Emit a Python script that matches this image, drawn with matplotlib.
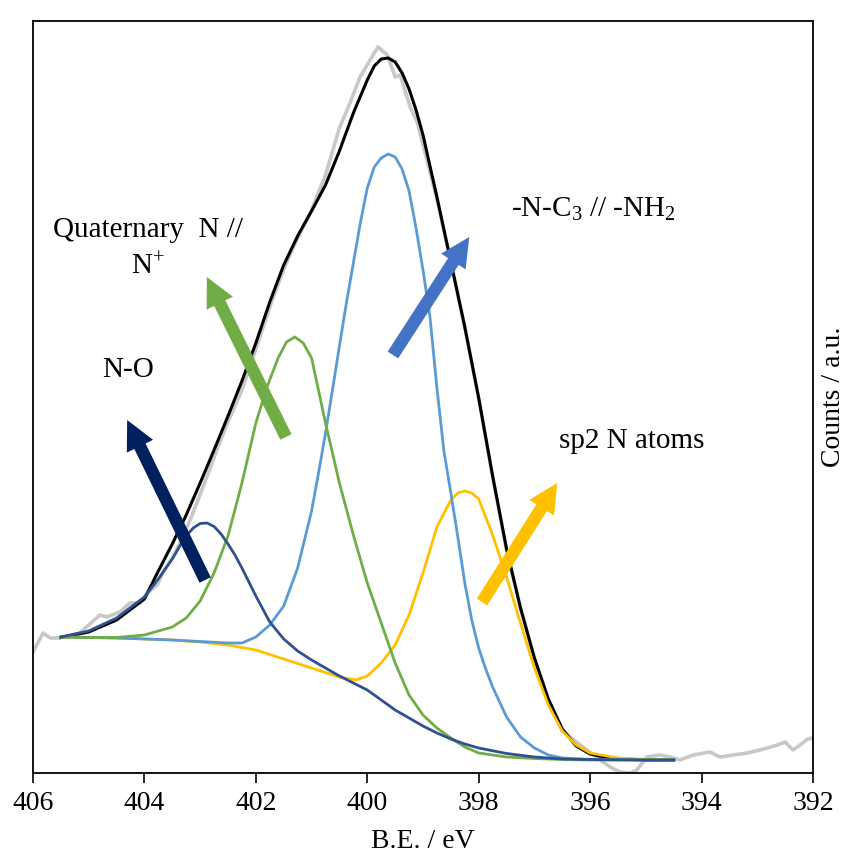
import numpy as np
import matplotlib
matplotlib.use("Agg")
import matplotlib.pyplot as plt

plt.rcParams['font.family'] = ['Liberation Serif', 'DejaVu Serif']
plt.rcParams['mathtext.fontset'] = 'custom'
plt.rcParams['mathtext.rm'] = 'Liberation Serif'
plt.rcParams['mathtext.it'] = 'Liberation Serif:italic'

# binding energy (eV) / counts (a.u.)
raw_be = [406.0, 405.82, 405.69, 405.52, 405.16, 404.80, 404.67, 404.44, 404.26, 404.08,
          403.95, 403.77, 403.67, 403.49, 403.31, 403.18, 403.06, 402.88, 402.70, 402.5,
          402.25, 402.0, 401.75, 401.5, 401.25, 401.0, 400.75, 400.5, 400.31, 400.13,
          399.95, 399.81, 399.64, 399.5, 399.41, 399.23, 399.1, 398.99, 398.75, 398.5,
          398.25, 398.0, 397.75, 397.5, 397.25, 397.0, 396.75, 396.5, 396.13, 395.82,
          395.64, 395.46, 395.28, 395.16, 394.98, 394.75, 394.57, 394.39, 394.15, 393.85,
          393.67, 393.43, 393.18, 392.95, 392.82, 392.64, 392.5, 392.36, 392.23, 392.1, 392.0]
raw_counts = [121, 140, 135, 135, 140, 158, 156, 161, 170, 170,
              180, 188, 201, 216, 236, 253, 270, 296, 323, 351,
              383, 424, 466, 504, 535, 563, 598, 645, 670, 696,
              713, 726, 718, 696, 698, 666, 650, 626, 574, 511,
              446, 374, 296, 223, 165, 114, 72, 42, 26, 13,
              6, 1, 0, 3, 16, 18, 16, 13, 18, 21,
              16, 18, 20, 23, 25, 28, 31, 23, 28, 34, 35]

env_be = [405.5, 405.0, 404.5, 404.0, 403.75, 403.5, 403.25, 403.0, 402.75, 402.5,
          402.25, 402.0, 401.75, 401.5, 401.25, 401.0, 400.75, 400.5, 400.25, 400.0,
          399.875, 399.75, 399.625, 399.5, 399.375, 399.25, 399.125, 399.0, 398.75, 398.5,
          398.25, 398.0, 397.75, 397.5, 397.25, 397.0, 396.75, 396.5, 396.25, 396.0,
          395.75, 395.5, 395.0, 394.5]
env_counts = [135.5, 141, 153, 174, 202, 229, 258, 290, 323, 357,
              392, 430, 471, 508, 537, 562, 588, 622, 660, 693,
              707, 714, 715, 711, 700, 684, 663, 638, 576, 511,
              446, 375, 297, 224, 165, 115, 74, 44, 27, 19,
              16, 14.5, 13, 13]

no_be = [405.5, 405.0, 404.5, 404.0, 403.75, 403.5, 403.375, 403.25, 403.125, 403.0,
         402.875, 402.75, 402.625, 402.5, 402.375, 402.25, 402.0, 401.75, 401.5, 401.25,
         401.0, 400.75, 400.5, 400.25, 400.0, 399.75, 399.5, 399.25, 399.0, 398.75,
         398.5, 398.25, 398.0, 397.5, 397.0, 396.5, 396.0, 395.0, 394.5]
no_counts = [136, 142, 155, 176, 194, 214, 226, 237, 245, 249.5,
             250, 246.5, 239, 229, 218, 205, 177, 151, 134, 122,
             113, 105, 97, 90, 83, 73, 63, 55, 47, 40,
             34, 29, 25, 19.5, 16, 14, 13.5, 13, 13]

quat_be = [405.5, 405.0, 404.5, 404.0, 403.5, 403.25, 403.0, 402.75, 402.5, 402.25,
           402.0, 401.8, 401.6, 401.45, 401.3, 401.15, 401.0, 400.75, 400.5, 400.25,
           400.0, 399.75, 399.5, 399.25, 399.0, 398.75, 398.5, 398.25, 398.0, 397.5,
           397.0, 396.5, 396.0, 395.0, 394.5]
quat_counts = [136, 135.5, 135.5, 138, 146, 155, 172, 200, 237, 290,
               350, 386, 415, 431, 436, 430, 415, 350, 290, 238,
               190, 150, 110, 78, 58, 45, 35, 26, 20, 16,
               14.5, 13.5, 13, 13, 13]

nc3_be = [405.5, 405.0, 404.5, 404.0, 403.5, 403.0, 402.5, 402.25, 402.0, 401.75,
          401.5, 401.25, 401.0, 400.875, 400.75, 400.625, 400.5, 400.375, 400.25, 400.125,
          400.0, 399.875, 399.75, 399.625, 399.5, 399.375, 399.25, 399.125, 399.0, 398.875,
          398.75, 398.625, 398.5, 398.375, 398.25, 398.125, 398.0, 397.875, 397.75, 397.5,
          397.25, 397.0, 396.75, 396.5, 396.0, 395.0, 394.5]
nc3_counts = [136, 135.5, 135, 134, 133, 131.5, 130, 130, 136, 148,
              167, 205, 262, 300, 340, 383, 427, 470, 510, 550,
              585, 606, 615, 619, 616, 604, 582, 545, 503, 456,
              385, 322, 280, 236, 190, 153, 125, 104, 86, 56,
              36, 25, 18, 15, 13.5, 13, 13]

sp2_be = [405.5, 405.0, 404.5, 404.0, 403.5, 403.0, 402.5, 402.0, 401.5, 401.0,
          400.5, 400.2, 400.0, 399.75, 399.5, 399.25, 399.0, 398.75, 398.5, 398.375,
          398.25, 398.125, 398.0, 397.75, 397.5, 397.25, 397.0, 396.75, 396.5, 396.25,
          396.0, 395.5, 395.0, 394.5]
sp2_counts = [136, 135.5, 135, 134, 133, 131, 128, 123, 114, 105,
              96, 93, 97, 110, 128, 158, 200, 246, 273, 280,
              282, 280, 274, 238, 196, 150, 105, 68, 42, 28,
              20, 15, 13.5, 13]

xticks = [406, 404, 402, 400, 398, 396, 394, 392]

fig = plt.figure(figsize=(8.45, 8.57), dpi=100)
ax = fig.add_axes([33/845, 84/857, 780/845, 752/857])

ax.plot(raw_be, raw_counts, color='#C8C8C8', lw=2.6, zorder=1)
ax.plot(env_be, env_counts, color='black', lw=2.2, zorder=2)
ax.plot(sp2_be, sp2_counts, color='#FFC000', lw=2.0, zorder=3)
ax.plot(nc3_be, nc3_counts, color='#5B9BD5', lw=2.0, zorder=4)
ax.plot(quat_be, quat_counts, color='#70AD47', lw=2.0, zorder=5)
ax.plot(no_be, no_counts, color='#2F528F', lw=2.0, zorder=6)

# block arrows pointing at the labels
arrows = [((402.91, 193), (404.31, 353), '#002060'),
          ((401.46, 336), (402.88, 496), '#70AD47'),
          ((399.54, 418), (398.17, 536), '#4472C4'),
          ((397.94, 171), (396.59, 290), '#FFC000')]
for tail, tip, c in arrows:
    ax.annotate('', xy=tip, xytext=tail,
                arrowprops=dict(arrowstyle='simple,head_length=2.1,head_width=2.1,tail_width=0.9',
                                mutation_scale=10, color=c, shrinkA=0, shrinkB=0, lw=0),
                zorder=7)

fs = 21
ax.text(403.94, 536, 'Quaternary  N //', fontsize=fs, ha='center', va='baseline')
ax.text(403.94, 499, 'N$^{+}$', fontsize=fs, ha='center', va='baseline')
ax.text(404.29, 396, 'N-O', fontsize=fs, ha='center', va='baseline')
ax.text(395.95, 556, '-N-C$_{3}$ // -NH$_{2}$', fontsize=fs, ha='center', va='baseline')
ax.text(395.25, 325, 'sp2 N atoms', fontsize=fs, ha='center', va='baseline')

ax.set_xlim(406, 392)
ax.set_ylim(0, 752)
ax.set_xticks(xticks)
ax.set_xticklabels([str(t) for t in xticks])
ax.set_yticks([])
ax.tick_params(axis='x', direction='out', length=7, width=1.2, pad=6, labelsize=20)
for s in ax.spines.values():
    s.set_linewidth(1.3)

ax.set_xlabel('B.E. / eV', fontsize=20, labelpad=9)
ax.yaxis.set_label_position('right')
ax.set_ylabel('Counts / a.u.', fontsize=20, labelpad=6)

fig.savefig('out.png', dpi=100)
